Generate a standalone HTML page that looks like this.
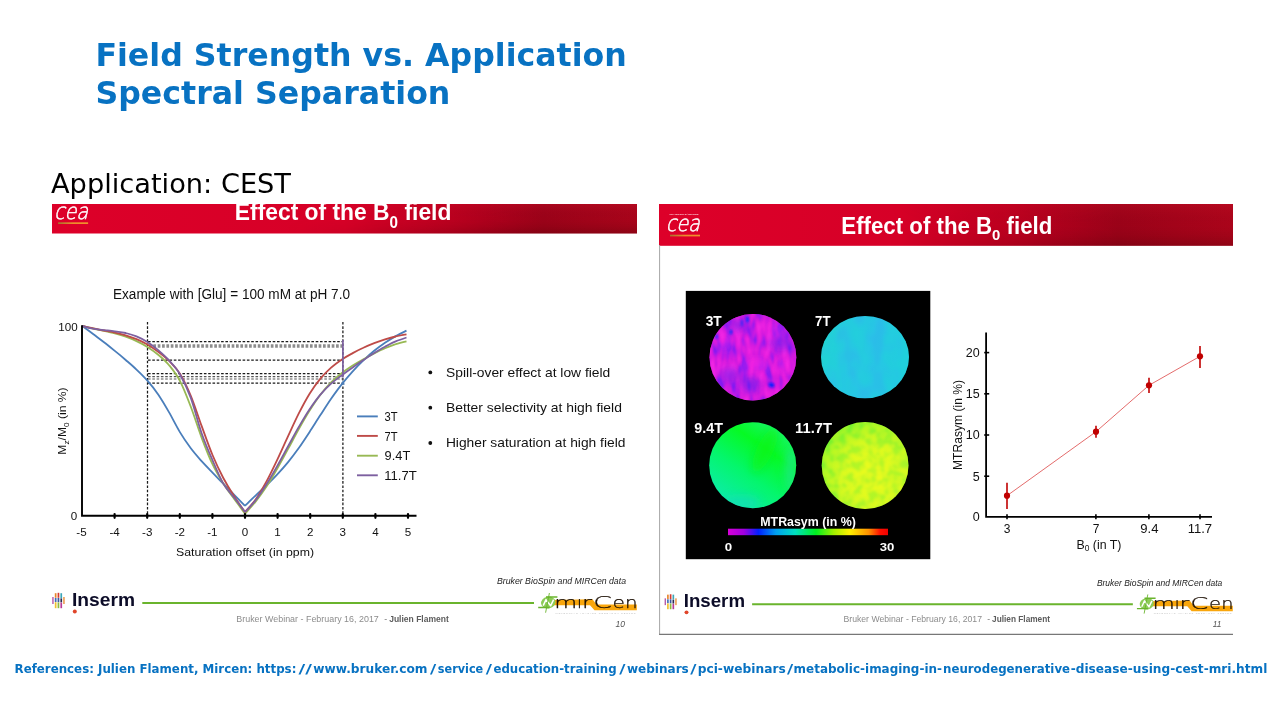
<!DOCTYPE html>
<html lang="en">
<head>
<meta charset="utf-8">
<title>Field Strength vs. Application - Spectral Separation</title>
<style>
html,body{margin:0;padding:0;background:#fff;}
body{width:1281px;height:720px;overflow:hidden;position:relative;}
svg{position:absolute;left:0;top:0;display:block;}
text{font-family:"Liberation Sans",sans-serif;fill:#111;}
.dj{font-family:"DejaVu Sans",sans-serif;}
.b{font-weight:bold;}
.i{font-style:italic;}
</style>
</head>
<body>
<svg width="1281" height="720" viewBox="0 0 1281 720">
<defs>
<linearGradient id="ban1" x1="0" y1="0" x2="1" y2="0">
<stop offset="0" stop-color="#dd0029"/><stop offset="0.5" stop-color="#d60027"/><stop offset="0.68" stop-color="#bb001f"/><stop offset="0.84" stop-color="#9b0319"/><stop offset="1" stop-color="#a8051b"/>
</linearGradient>
<linearGradient id="ban2" x1="0" y1="0" x2="1" y2="0">
<stop offset="0" stop-color="#dd0029"/><stop offset="0.42" stop-color="#d60027"/><stop offset="0.62" stop-color="#bb001f"/><stop offset="0.8" stop-color="#9b0319"/><stop offset="1" stop-color="#ab051b"/>
</linearGradient>
<linearGradient id="shadev" x1="0" y1="0" x2="0" y2="1">
<stop offset="0" stop-color="#ff2040" stop-opacity="0.14"/><stop offset="0.5" stop-color="#800010" stop-opacity="0"/><stop offset="1" stop-color="#300000" stop-opacity="0.22"/>
</linearGradient>
<linearGradient id="ramp" x1="0" y1="0" x2="1" y2="0">
<stop offset="0.4" stop-color="#000"/><stop offset="0.8" stop-color="#fff"/>
</linearGradient>
<mask id="mL" maskUnits="userSpaceOnUse" x="52" y="204" width="585" height="30"><rect x="52" y="204" width="585" height="30" fill="url(#ramp)"/></mask>
<mask id="mR" maskUnits="userSpaceOnUse" x="659" y="204" width="574" height="42"><rect x="659" y="204" width="574" height="42" fill="url(#ramp)"/></mask>
<linearGradient id="shade" x1="0" y1="0" x2="1" y2="0">
<stop offset="0" stop-color="#000" stop-opacity="0"/><stop offset="0.5" stop-color="#000" stop-opacity="0.06"/><stop offset="1" stop-color="#000" stop-opacity="0.08"/>
</linearGradient>
<linearGradient id="cbar" x1="0" y1="0" x2="1" y2="0">
<stop offset="0" stop-color="#d800d8"/><stop offset="0.1" stop-color="#a000e0"/><stop offset="0.19" stop-color="#0020ff"/><stop offset="0.3" stop-color="#00a0f0"/><stop offset="0.42" stop-color="#00e0c0"/><stop offset="0.55" stop-color="#00f020"/><stop offset="0.66" stop-color="#a0f000"/><stop offset="0.76" stop-color="#fff000"/><stop offset="0.88" stop-color="#ff9000"/><stop offset="0.95" stop-color="#ff1000"/><stop offset="1" stop-color="#f00000"/>
</linearGradient>
<linearGradient id="cealine" x1="0" y1="0" x2="1" y2="0">
<stop offset="0" stop-color="#a8702c"/><stop offset="0.5" stop-color="#ee8c2c"/><stop offset="1" stop-color="#f0902c"/>
</linearGradient>
</defs>

<!-- ============ TITLE ============ -->
<g id="title">
<text class="dj b" x="95.4" y="65.6" font-size="32" style="fill:#0872c2" textLength="531.4" lengthAdjust="spacingAndGlyphs">Field Strength vs. Application</text>
<text class="dj b" x="95.4" y="103.6" font-size="32" style="fill:#0872c2" textLength="355" lengthAdjust="spacingAndGlyphs">Spectral Separation</text>
<text class="dj" x="51" y="193" font-size="26.5" style="fill:#000" textLength="240" lengthAdjust="spacingAndGlyphs">Application: CEST</text>
</g>

<!-- ============ LEFT SLIDE ============ -->
<g id="slideL">
<rect x="52" y="204" width="585" height="29.5" fill="url(#ban1)"/>
<rect x="52" y="204" width="585" height="29.5" fill="url(#shadev)" mask="url(#mL)"/>
<clipPath id="cl1"><rect x="52" y="204" width="585" height="29.5"/></clipPath>
<text clip-path="url(#cl1)" class="b" x="234.8" y="220.3" font-size="23.4" style="fill:#fff" textLength="216.6" lengthAdjust="spacingAndGlyphs">Effect of the B<tspan font-size="15.6" dy="7.6">0</tspan><tspan dy="-7.6"> field</tspan></text>

<g transform="translate(56.1,205.9) scale(1.0)">
<text class="dj" transform="translate(2.2,0) skewX(-14)" x="-1.2" y="12.9" font-size="22.2" font-weight="200" style="fill:#fff;stroke:#fff;stroke-width:0.5" textLength="34" lengthAdjust="spacingAndGlyphs">cea</text>
<rect x="2" y="16.4" width="30" height="1.7" fill="url(#cealine)"/>

</g>

<text x="113" y="298.7" font-size="14" textLength="237" lengthAdjust="spacingAndGlyphs">Example with [Glu] = 100 mM at pH 7.0</text>

<!-- chart 1 -->
<g id="chart1" fill="none">
<g stroke="#1a1a1a" stroke-width="1.25" stroke-dasharray="2.6,1.7">
<line x1="147.5" y1="322" x2="147.5" y2="516"/>
<line x1="342.9" y1="322" x2="342.9" y2="516"/>
<line x1="148" y1="341.5" x2="342.5" y2="341.5"/>
<line x1="148" y1="360" x2="342.5" y2="360"/>
<line x1="148" y1="373.5" x2="342.5" y2="373.5"/>
<line x1="148" y1="383.1" x2="342.5" y2="383.1"/>
</g>
<g stroke="#555" stroke-width="1.2" stroke-dasharray="2.6,1.7">
<line x1="148" y1="376.7" x2="342.5" y2="376.7"/>
<line x1="148" y1="379" x2="342.5" y2="379"/>
</g>
<line x1="149" y1="346" x2="342.5" y2="346" stroke="#8c8c8c" stroke-width="3.4" stroke-dasharray="2.7,1.65"/>
<path d="M82.3,326.0 C84.1,327.3 89.5,331.3 93.1,334.0 C96.8,336.7 100.4,339.5 104.0,342.3 C107.6,345.1 111.2,348.0 114.8,350.9 C118.5,353.8 122.1,356.8 125.7,360.0 C129.3,363.1 132.9,366.1 136.5,369.6 C140.1,373.0 143.8,376.5 147.4,380.7 C151.0,384.8 154.6,389.2 158.2,394.5 C161.8,399.8 165.5,406.1 169.1,412.4 C172.7,418.7 176.3,426.1 179.9,432.1 C183.5,438.1 187.2,443.4 190.8,448.3 C194.4,453.1 198.0,457.1 201.6,461.2 C205.2,465.2 208.8,468.8 212.5,472.6 C216.1,476.4 219.7,480.0 223.3,483.7 C226.9,487.4 230.5,491.1 234.2,494.8 C237.8,498.5 243.2,504.0 245.0,505.8 M245.0,505.8 C246.8,504.1 252.2,498.8 255.8,495.3 C259.4,491.9 262.9,488.7 266.5,485.2 C270.1,481.7 273.7,478.2 277.3,474.3 C280.9,470.5 284.5,466.5 288.1,462.1 C291.7,457.7 295.2,453.0 298.8,448.0 C302.4,442.9 306.0,437.4 309.6,431.9 C313.2,426.4 316.8,420.6 320.4,415.1 C324.0,409.5 327.5,403.9 331.1,398.7 C334.7,393.6 338.3,388.6 341.9,384.1 C345.5,379.5 349.1,375.3 352.7,371.3 C356.3,367.3 359.8,363.7 363.4,360.3 C367.0,356.9 370.6,353.7 374.2,350.8 C377.8,347.9 381.4,345.3 385.0,342.8 C388.6,340.4 392.1,338.2 395.7,336.1 C399.3,334.1 404.7,331.5 406.5,330.6" stroke="#4a7ebb" stroke-width="1.8" stroke-linejoin="round"/>
<path d="M82.3,326.0 C84.1,326.4 89.5,327.7 93.1,328.5 C96.8,329.3 100.4,330.0 104.0,330.8 C107.6,331.6 111.2,332.4 114.8,333.4 C118.5,334.4 122.1,335.4 125.7,336.7 C129.3,338.0 132.9,339.4 136.5,341.1 C140.1,342.8 143.8,344.6 147.4,346.9 C151.0,349.2 154.6,351.6 158.2,354.7 C161.8,357.7 165.5,360.8 169.1,365.2 C172.7,369.6 176.3,373.9 179.9,380.9 C183.5,387.8 187.2,397.3 190.8,406.8 C194.4,416.2 198.0,428.0 201.6,437.6 C205.2,447.2 208.8,456.5 212.5,464.2 C216.1,471.8 219.7,477.7 223.3,483.5 C226.9,489.3 230.5,493.9 234.2,498.9 C237.8,503.9 243.2,511.3 245.0,513.7 M245.0,513.7 C246.8,511.7 252.2,505.9 255.8,501.4 C259.4,496.8 262.9,491.9 266.5,486.5 C270.1,481.0 273.7,474.8 277.3,468.5 C280.9,462.3 284.5,455.5 288.1,448.9 C291.7,442.3 295.2,435.5 298.8,429.1 C302.4,422.7 306.0,416.3 309.6,410.6 C313.2,404.9 316.8,399.4 320.4,394.7 C324.0,390.0 327.5,386.0 331.1,382.4 C334.7,378.8 338.3,375.8 341.9,373.0 C345.5,370.2 349.1,367.8 352.7,365.5 C356.3,363.3 359.8,361.3 363.4,359.3 C367.0,357.3 370.6,355.4 374.2,353.5 C377.8,351.7 381.4,349.9 385.0,348.3 C388.6,346.7 392.1,345.2 395.7,344.1 C399.3,342.9 404.7,341.7 406.5,341.3" stroke="#98b954" stroke-width="1.8" stroke-linejoin="round"/>
<path d="M82.3,326.0 C84.1,326.4 89.5,327.7 93.1,328.4 C96.8,329.2 100.4,329.8 104.0,330.5 C107.6,331.2 111.2,331.8 114.8,332.6 C118.5,333.5 122.1,334.3 125.7,335.4 C129.3,336.5 132.9,337.7 136.5,339.2 C140.1,340.7 143.8,342.5 147.4,344.5 C151.0,346.6 154.6,349.1 158.2,351.8 C161.8,354.5 165.5,357.3 169.1,360.9 C172.7,364.5 176.3,367.7 179.9,373.6 C183.5,379.4 187.2,387.0 190.8,395.8 C194.4,404.5 198.0,416.0 201.6,425.9 C205.2,435.7 208.8,446.3 212.5,455.0 C216.1,463.7 219.7,471.1 223.3,478.0 C226.9,484.9 230.5,490.6 234.2,496.2 C237.8,501.9 243.2,509.4 245.0,512.0 M245.0,512.0 C246.8,509.9 252.2,504.3 255.8,499.2 C259.4,494.1 262.9,488.0 266.5,481.4 C270.1,474.8 273.7,467.1 277.3,459.6 C280.9,452.0 284.5,443.8 288.1,436.1 C291.7,428.4 295.2,420.5 298.8,413.4 C302.4,406.3 306.0,399.5 309.6,393.7 C313.2,387.9 316.8,383.0 320.4,378.6 C324.0,374.3 327.5,370.8 331.1,367.6 C334.7,364.4 338.3,361.8 341.9,359.4 C345.5,357.0 349.1,355.1 352.7,353.1 C356.3,351.2 359.8,349.4 363.4,347.8 C367.0,346.1 370.6,344.6 374.2,343.2 C377.8,341.8 381.4,340.5 385.0,339.4 C388.6,338.3 392.1,337.3 395.7,336.5 C399.3,335.6 404.7,334.7 406.5,334.4" stroke="#be4b48" stroke-width="1.8" stroke-linejoin="round"/>
<path d="M82.3,326.0 C84.1,326.4 89.5,328.0 93.1,328.7 C96.8,329.3 100.4,329.7 104.0,330.1 C107.6,330.5 111.2,330.8 114.8,331.3 C118.5,331.8 122.1,332.2 125.7,333.0 C129.3,333.9 132.9,334.9 136.5,336.4 C140.1,337.9 143.8,339.7 147.4,342.0 C151.0,344.3 154.6,347.0 158.2,350.1 C161.8,353.2 165.5,356.4 169.1,360.4 C172.7,364.4 176.3,368.0 179.9,374.2 C183.5,380.5 187.2,388.0 190.8,397.9 C194.4,407.7 198.0,422.8 201.6,433.2 C205.2,443.5 208.8,451.8 212.5,460.2 C216.1,468.6 219.7,477.3 223.3,483.6 C226.9,489.8 230.5,492.9 234.2,497.7 C237.8,502.4 243.2,509.6 245.0,512.0 M245.0,512.0 C246.8,510.0 252.2,504.6 255.8,500.0 C259.4,495.4 262.9,490.0 266.5,484.3 C270.1,478.6 273.7,472.3 277.3,465.9 C280.9,459.6 284.5,452.8 288.1,446.3 C291.7,439.8 295.2,433.1 298.8,426.9 C302.4,420.8 306.0,414.6 309.6,409.2 C313.2,403.9 316.8,398.9 320.4,394.6 C324.0,390.4 327.5,386.9 331.1,383.7 C334.7,380.4 338.3,377.8 341.9,375.1 C345.5,372.4 349.1,369.9 352.7,367.4 C356.3,364.8 359.8,362.4 363.4,360.0 C367.0,357.6 370.6,355.3 374.2,353.0 C377.8,350.8 381.4,348.6 385.0,346.7 C388.6,344.8 392.1,342.9 395.7,341.4 C399.3,339.9 404.7,338.1 406.5,337.5" stroke="#7d60a0" stroke-width="1.8" stroke-linejoin="round"/>
<line x1="342.9" y1="340" x2="342.9" y2="377.5" stroke="#7d60a0" stroke-width="1.7"/>
<path d="M341,384.6 L344.9,384.6 L342.9,380.6 Z" fill="#4a7ebb"/>
<!-- axes -->
<path d="M82,325.3 V515.8 H416.5" stroke="#000" stroke-width="1.9"/>
<g stroke="#000" stroke-width="2.2" stroke-linecap="round">
<line x1="114.6" y1="514" x2="114.6" y2="517.8"/><line x1="147.2" y1="514" x2="147.2" y2="517.8"/><line x1="179.8" y1="514" x2="179.8" y2="517.8"/><line x1="212.4" y1="514" x2="212.4" y2="517.8"/><line x1="245" y1="514" x2="245" y2="517.8"/><line x1="277.6" y1="514" x2="277.6" y2="517.8"/><line x1="310.2" y1="514" x2="310.2" y2="517.8"/><line x1="342.8" y1="514" x2="342.8" y2="517.8"/><line x1="375.4" y1="514" x2="375.4" y2="517.8"/><line x1="408" y1="514" x2="408" y2="517.8"/>
</g>
<!-- legend lines -->
<g stroke-width="1.9">
<line x1="357" y1="416.4" x2="377.8" y2="416.4" stroke="#4a7ebb"/>
<line x1="357" y1="435.9" x2="377.8" y2="435.9" stroke="#be4b48"/>
<line x1="357" y1="455.7" x2="377.8" y2="455.7" stroke="#98b954"/>
<line x1="357" y1="475.3" x2="377.8" y2="475.3" stroke="#7d60a0"/>
</g>
</g>
<g font-size="11.6" text-anchor="middle">
<text x="81.5" y="536.2">-5</text><text x="114.6" y="536.2">-4</text><text x="147.2" y="536.2">-3</text><text x="179.8" y="536.2">-2</text><text x="212.4" y="536.2">-1</text><text x="245" y="536.2">0</text><text x="277.6" y="536.2">1</text><text x="310.2" y="536.2">2</text><text x="342.8" y="536.2">3</text><text x="375.4" y="536.2">4</text><text x="408" y="536.2">5</text>
</g>
<text x="77.6" y="331.3" font-size="11.6" text-anchor="end">100</text>
<text x="77.2" y="520" font-size="11.6" text-anchor="end">0</text>
<text x="245" y="555.5" font-size="11.6" text-anchor="middle" textLength="138" lengthAdjust="spacingAndGlyphs">Saturation offset (in ppm)</text>
<text transform="translate(66.3,421) rotate(-90)" font-size="11.8" text-anchor="middle" textLength="67.3" lengthAdjust="spacingAndGlyphs">M<tspan font-size="8" dy="2.5">z</tspan><tspan dy="-2.5">/M</tspan><tspan font-size="8" dy="2.5">0</tspan><tspan dy="-2.5"> (in %)</tspan></text>
<g font-size="12.3">
<text x="384.6" y="420.9" textLength="13" lengthAdjust="spacingAndGlyphs">3T</text><text x="384.6" y="440.5" textLength="13" lengthAdjust="spacingAndGlyphs">7T</text><text x="384.6" y="460.2" textLength="25.6" lengthAdjust="spacingAndGlyphs">9.4T</text><text x="384.2" y="479.9" textLength="32.6" lengthAdjust="spacingAndGlyphs">11.7T</text>
</g>
<!-- bullets -->
<g font-size="13.2">
<circle cx="430.3" cy="372.4" r="1.9" fill="#111"/><circle cx="430.3" cy="407.7" r="1.9" fill="#111"/><circle cx="430.3" cy="443" r="1.9" fill="#111"/>
<text x="446.1" y="376.7" textLength="164.2" lengthAdjust="spacingAndGlyphs">Spill-over effect at low field</text>
<text x="445.9" y="412" textLength="176" lengthAdjust="spacingAndGlyphs">Better selectivity at high field</text>
<text x="445.9" y="447.2" textLength="179.5" lengthAdjust="spacingAndGlyphs">Higher saturation at high field</text>
</g>

<g transform="translate(0,0) scale(1)">
<g>
<rect x="52.3" y="597" width="1.3" height="7" fill="#b04aa0"/>
<rect x="54.8" y="593.2" width="1.7" height="4.6" fill="#e8862a"/><rect x="54.8" y="598" width="1.7" height="4" fill="#3f6fb5"/><rect x="54.8" y="602.2" width="1.7" height="6" fill="#f0c030"/>
<rect x="57.6" y="592.8" width="1.7" height="5" fill="#d63a2e"/><rect x="57.6" y="598" width="1.7" height="4.2" fill="#3b56a0"/><rect x="57.6" y="602.4" width="1.7" height="5.8" fill="#8fb840"/>
<rect x="60.4" y="593.2" width="1.7" height="5" fill="#3aa6b8"/><rect x="60.4" y="598.4" width="1.7" height="4" fill="#2a2a50"/><rect x="60.4" y="602.6" width="1.7" height="5.6" fill="#b83a98"/>
<rect x="63.3" y="597" width="1.3" height="7" fill="#e8862a"/>
</g>
<text class="b" x="72" y="606.3" font-size="18.2" style="fill:#0c0c28" textLength="63" lengthAdjust="spacingAndGlyphs">Inserm</text>
<circle cx="74.8" cy="611.4" r="2" fill="#e0452a"/>
<line x1="142.3" y1="603" x2="534" y2="603" stroke="#6ab42d" stroke-width="2.1"/>
<text x="236.3" y="621.5" font-size="8.8" style="fill:#8c8c8c" textLength="142.5" lengthAdjust="spacingAndGlyphs">Bruker Webinar - February 16, 2017</text>
<text x="384.2" y="621.5" font-size="8.8" style="fill:#777">-</text>
<text class="b" x="389.2" y="621.5" font-size="8.8" style="fill:#5c5c5c" textLength="59.6" lengthAdjust="spacingAndGlyphs">Julien Flament</text>
<text class="i" x="497" y="584" font-size="9" style="fill:#222" textLength="129" lengthAdjust="spacingAndGlyphs">Bruker BioSpin and MIRCen data</text>
<text class="i" x="615.5" y="627" font-size="8.6" style="fill:#555">10</text>
<!-- MIRCen logo -->
<g>
<path d="M551.5,600 L592.5,599.3 L596.5,604.6 L636.8,604.6 L636.8,610.2 L594.5,610.2 L590,605.2 L551.5,605.2 Z" fill="#f9a60c"/>
<ellipse cx="548.3" cy="602.6" rx="7.3" ry="5.9" fill="#8ccb57" transform="rotate(-12 548.3 602.6)"/>
<path d="M543.2,605.6 L546,599.6 L550.6,605.8 L553.6,599.6" stroke="#fff" stroke-width="1.5" fill="none" stroke-linejoin="round"/>
<path d="M546,597 H557.4 M538.2,607.6 H549.5" stroke="#6ab42d" stroke-width="1.5" fill="none"/>
<path d="M549.4,593 L545.6,612.7" stroke="#6ab42d" stroke-width="0.9" fill="none"/>
<g class="dj" font-size="16" font-weight="200" style="fill:#1a0d00;stroke:#1a0d00;stroke-width:0.25">
<text class="dj" x="554.2" y="608.2" font-weight="200" style="fill:#1a0d00" textLength="23" lengthAdjust="spacingAndGlyphs">m</text>
<text class="dj" x="577" y="608.2" font-weight="200" style="fill:#1a0d00" textLength="5" lengthAdjust="spacingAndGlyphs">ı</text>
<text class="dj" x="582" y="608.2" font-weight="200" style="fill:#1a0d00" textLength="10" lengthAdjust="spacingAndGlyphs">r</text>
<text class="dj" x="593.2" y="608.2" font-weight="200" style="fill:#1a0d00" textLength="18.6" lengthAdjust="spacingAndGlyphs">C</text>
<text class="dj" x="612.4" y="608.2" font-weight="200" style="fill:#1a0d00" textLength="12.4" lengthAdjust="spacingAndGlyphs">e</text>
<text class="dj" x="625" y="608.2" font-weight="200" style="fill:#1a0d00" textLength="12.6" lengthAdjust="spacingAndGlyphs">n</text>
</g>
<text x="555.5" y="613.5" font-size="2.4" style="fill:#b4b4b4" textLength="80" lengthAdjust="spacing">MOLECULAR IMAGING RESEARCH CENTER</text>
</g>
</g>

</g>

<!-- ============ RIGHT SLIDE ============ -->
<g id="slideR">
<rect x="659" y="204" width="574" height="41.8" fill="url(#ban2)"/>
<rect x="659" y="204" width="574" height="41.8" fill="url(#shadev)" mask="url(#mR)"/>
<line x1="659.6" y1="245" x2="659.6" y2="634.8" stroke="#a6a6a6" stroke-width="1"/>
<line x1="659.1" y1="634.4" x2="1233" y2="634.4" stroke="#777" stroke-width="1.2"/>
<text class="b" x="841.3" y="233.7" font-size="23" style="fill:#fff" textLength="211" lengthAdjust="spacingAndGlyphs">Effect of the B<tspan font-size="15.4" dy="6.4">0</tspan><tspan dy="-6.4"> field</tspan></text>

<g transform="translate(668,218.3) scale(1.0)">
<text class="dj" transform="translate(2.2,0) skewX(-14)" x="-1.2" y="12.9" font-size="22.2" font-weight="200" style="fill:#fff;stroke:#fff;stroke-width:0.5" textLength="34" lengthAdjust="spacingAndGlyphs">cea</text>
<rect x="2" y="16.4" width="30" height="1.7" fill="url(#cealine)"/>
<text x="1.6" y="-3.4" font-size="2.3" style="fill:#fff;opacity:0.85" textLength="29" lengthAdjust="spacing">DE LA RECHERCHE À L'INDUSTRIE</text>
</g>


<g id="mri">
<defs>
<radialGradient id="g3" cx="0.5" cy="0.55" r="0.6"><stop offset="0" stop-color="#dc24dc"/><stop offset="1" stop-color="#c01cdc"/></radialGradient>
<linearGradient id="g7" x1="0" y1="0" x2="1" y2="0.3"><stop offset="0" stop-color="#22dcc4"/><stop offset="0.25" stop-color="#24cedb"/><stop offset="0.6" stop-color="#28c6e4"/><stop offset="1" stop-color="#22cede"/></linearGradient>
<linearGradient id="g9" x1="0.15" y1="1" x2="0.85" y2="0"><stop offset="0" stop-color="#0eeab4"/><stop offset="0.4" stop-color="#04f66c"/><stop offset="0.7" stop-color="#06fa24"/><stop offset="1" stop-color="#1cf27c"/></linearGradient>
<radialGradient id="g11" cx="0.6" cy="0.62" r="0.75"><stop offset="0" stop-color="#e8fa20"/><stop offset="0.5" stop-color="#ccf824"/><stop offset="0.85" stop-color="#84f42c"/><stop offset="1" stop-color="#54f030"/></radialGradient>
<clipPath id="c3"><ellipse cx="752.9" cy="357.2" rx="43.4" ry="43.3"/></clipPath>
<clipPath id="c7"><ellipse cx="865" cy="357.1" rx="44" ry="41.2"/></clipPath>
<clipPath id="c9"><ellipse cx="752.7" cy="465.3" rx="43.5" ry="43"/></clipPath>
<clipPath id="c11"><ellipse cx="865.1" cy="465.5" rx="43.4" ry="43.6"/></clipPath>
<filter id="bl1" x="-50%" y="-50%" width="200%" height="200%"><feGaussianBlur stdDeviation="1"/></filter>
<filter id="bl2" x="-50%" y="-50%" width="200%" height="200%"><feGaussianBlur stdDeviation="2.2"/></filter>
<filter id="bl3" x="-50%" y="-50%" width="200%" height="200%"><feGaussianBlur stdDeviation="4"/></filter>
<filter id="n3" x="0" y="0" width="100%" height="100%" color-interpolation-filters="sRGB">
<feTurbulence type="fractalNoise" baseFrequency="0.12 0.05" numOctaves="2" seed="7" result="t"/>
<feColorMatrix in="t" type="matrix" values="2.0 0 0 0 -0.5  2.0 0 0 0 -0.5  2.0 0 0 0 -0.5  0 0 0 0 1"/>
<feComponentTransfer><feFuncR type="table" tableValues="0.42 0.66 0.84 0.94 1"/><feFuncG type="table" tableValues="0.1 0.1 0.1 0.12 0.16"/><feFuncB type="table" tableValues="0.98 0.93 0.88 0.88 0.9"/><feFuncA type="table" tableValues="0.7 0.7"/></feComponentTransfer>
<feGaussianBlur stdDeviation="0.7"/>
<feComposite in2="SourceGraphic" operator="in"/>
</filter>
<filter id="n7" x="0" y="0" width="100%" height="100%" color-interpolation-filters="sRGB">
<feTurbulence type="fractalNoise" baseFrequency="0.07 0.04" numOctaves="2" seed="11" result="t"/>
<feColorMatrix in="t" type="matrix" values="2.4 0 0 0 -0.7  2.4 0 0 0 -0.7  2.4 0 0 0 -0.7  0 0 0 0 1"/>
<feComponentTransfer><feFuncR type="table" tableValues="0.2 0.17 0.13 0.12"/><feFuncG type="table" tableValues="0.66 0.74 0.8 0.84"/><feFuncB type="table" tableValues="0.96 0.93 0.88 0.84"/><feFuncA type="table" tableValues="0.3 0.3"/></feComponentTransfer>
<feGaussianBlur stdDeviation="1"/>
<feComposite in2="SourceGraphic" operator="in"/>
</filter>
<filter id="n11" x="0" y="0" width="100%" height="100%" color-interpolation-filters="sRGB">
<feTurbulence type="fractalNoise" baseFrequency="0.13 0.13" numOctaves="2" seed="5" result="t"/>
<feColorMatrix in="t" type="matrix" values="2.8 0 0 0 -0.9  2.8 0 0 0 -0.9  2.8 0 0 0 -0.9  0 0 0 0 1"/>
<feComponentTransfer><feFuncR type="table" tableValues="0.35 0.65 0.9 1"/><feFuncG type="table" tableValues="0.93 0.96 0.98 1"/><feFuncB type="table" tableValues="0.2 0.15 0.12 0.08"/><feFuncA type="table" tableValues="0.3 0.3"/></feComponentTransfer>
<feGaussianBlur stdDeviation="0.8"/>
<feComposite in2="SourceGraphic" operator="in"/>
</filter>
</defs>
<rect x="685.8" y="290.9" width="244.5" height="268.3" fill="#000"/>
<ellipse cx="752.9" cy="357.2" rx="43.4" ry="43.3" fill="url(#g3)"/>
<g clip-path="url(#c3)">
<rect x="708" y="312" width="90" height="90" fill="#c020e0" filter="url(#n3)"/>
<g filter="url(#bl3)" opacity="0.55">
<ellipse cx="781" cy="343" rx="12" ry="7" fill="#5a20f0"/>
<ellipse cx="730" cy="375" rx="10" ry="7" fill="#5a20f0"/>
<ellipse cx="750" cy="384" rx="10" ry="7" fill="#5020f0"/>
<ellipse cx="738" cy="325" rx="9" ry="6" fill="#6020f0"/>
<ellipse cx="757" cy="365" rx="12" ry="5" fill="#ff28e8"/>
<ellipse cx="785" cy="366" rx="6" ry="6" fill="#ff28e8"/>
<ellipse cx="724" cy="342" rx="6" ry="8" fill="#ff28e8"/>
<ellipse cx="775" cy="330" rx="7" ry="5" fill="#ff28e8"/>
</g>
<g filter="url(#bl1)">
<ellipse cx="730.9" cy="332" rx="1.4" ry="2.8" fill="#1030ff"/>
<ellipse cx="747.5" cy="319.5" rx="1.5" ry="3" fill="#2030ff"/>
<ellipse cx="742" cy="323" rx="1.2" ry="3.4" fill="#4028f8"/>
<ellipse cx="716.6" cy="336.5" rx="1.3" ry="2.6" fill="#2030ff"/>
<ellipse cx="771.5" cy="385" rx="3" ry="2.2" fill="#1020ff" transform="rotate(30 771.5 385)"/>
</g>
</g>
<ellipse cx="865" cy="357.1" rx="44" ry="41.2" fill="url(#g7)"/>
<g clip-path="url(#c7)"><rect x="820" y="315" width="90" height="85" fill="#22c8e0" filter="url(#n7)"/></g>
<ellipse cx="752.7" cy="465.3" rx="43.5" ry="43" fill="url(#g9)"/>
<g clip-path="url(#c9)">
<g filter="url(#bl3)" opacity="0.7">
<ellipse cx="791" cy="470" rx="6" ry="22" fill="#24e498"/>
<ellipse cx="742" cy="503" rx="18" ry="7" fill="#16dcb8"/>
<ellipse cx="765" cy="450" rx="8" ry="24" fill="#10f418" transform="rotate(25 765 450)"/>
</g>
</g>
<ellipse cx="865.1" cy="465.5" rx="43.4" ry="43.6" fill="url(#g11)"/>
<g clip-path="url(#c11)"><rect x="820" y="420" width="90" height="92" fill="#c0f028" filter="url(#n11)"/></g>
<rect x="728" y="528.7" width="160" height="6.5" fill="url(#cbar)"/>
<text class="b" x="705.7" y="326" font-size="14.6" style="fill:#fff" textLength="16" lengthAdjust="spacingAndGlyphs">3T</text>
<text class="b" x="815" y="326" font-size="14.6" style="fill:#fff" textLength="15.5" lengthAdjust="spacingAndGlyphs">7T</text>
<text class="b" x="694.3" y="433" font-size="14.8" style="fill:#fff" textLength="28.6" lengthAdjust="spacingAndGlyphs">9.4T</text>
<text class="b" x="795" y="433" font-size="14.8" style="fill:#fff" textLength="37" lengthAdjust="spacingAndGlyphs">11.7T</text>
<text class="b" x="760.3" y="526.2" font-size="12.2" style="fill:#fff" textLength="95.6" lengthAdjust="spacingAndGlyphs">MTRasym (in %)</text>
<text class="b" x="724.8" y="550.7" font-size="11.2" style="fill:#fff" textLength="7.4" lengthAdjust="spacingAndGlyphs">0</text>
<text class="b" x="879.8" y="550.7" font-size="11.2" style="fill:#fff" textLength="14.6" lengthAdjust="spacingAndGlyphs">30</text>
</g>


<g id="chart2">
<path d="M986.1,332.4 V516.9 H1212" fill="none" stroke="#000" stroke-width="1.8"/>
<g stroke="#000" stroke-width="1.6">
<line x1="984.2" y1="476.2" x2="989.2" y2="476.2"/><line x1="984.2" y1="435" x2="989.2" y2="435"/><line x1="984.2" y1="393.8" x2="989.2" y2="393.8"/><line x1="984.2" y1="352.6" x2="989.2" y2="352.6"/>
<line x1="1007" y1="514.3" x2="1007" y2="519.3"/><line x1="1095.9" y1="514.3" x2="1095.9" y2="519.3"/><line x1="1148.9" y1="514.3" x2="1148.9" y2="519.3"/><line x1="1200" y1="514.3" x2="1200" y2="519.3"/>
</g>
<polyline points="1007,495.7 1096,431.7 1149,385.3 1200,356.3" fill="none" stroke="#e05a5a" stroke-width="0.9"/>
<g stroke="#c00000" stroke-width="1.6">
<line x1="1007" y1="482.7" x2="1007" y2="509"/><line x1="1096" y1="425.7" x2="1096" y2="437.7"/><line x1="1149" y1="377.7" x2="1149" y2="393"/><line x1="1200" y1="346" x2="1200" y2="368"/>
</g>
<g fill="#c00000"><circle cx="1007" cy="495.7" r="3.1"/><circle cx="1096" cy="431.7" r="3.1"/><circle cx="1149" cy="385.3" r="3.1"/><circle cx="1200" cy="356.3" r="3.1"/></g>
<g font-size="12.5" text-anchor="end">
<text x="979.6" y="521.2">0</text><text x="979.6" y="480.5">5</text><text x="979.6" y="439.3">10</text><text x="979.6" y="398.1">15</text><text x="979.6" y="357">20</text>
</g>
<g font-size="12" text-anchor="middle">
<text x="1007" y="532.7">3</text><text x="1096.2" y="532.7">7</text><text x="1149.4" y="532.7" textLength="18.2" lengthAdjust="spacingAndGlyphs">9.4</text><text x="1199.9" y="532.7" textLength="24.4" lengthAdjust="spacingAndGlyphs">11.7</text>
<text x="1099" y="548.8" textLength="45" lengthAdjust="spacingAndGlyphs">B<tspan font-size="8.2" dy="2.6">0</tspan><tspan dy="-2.6"> (in T)</tspan></text>
</g>
<text transform="translate(962.2,425) rotate(-90)" font-size="12.4" text-anchor="middle" textLength="90" lengthAdjust="spacingAndGlyphs">MTRasym (in %)</text>
</g>


<g transform="translate(613.8,18.05) scale(0.972)">
<g>
<rect x="52.3" y="597" width="1.3" height="7" fill="#b04aa0"/>
<rect x="54.8" y="593.2" width="1.7" height="4.6" fill="#e8862a"/><rect x="54.8" y="598" width="1.7" height="4" fill="#3f6fb5"/><rect x="54.8" y="602.2" width="1.7" height="6" fill="#f0c030"/>
<rect x="57.6" y="592.8" width="1.7" height="5" fill="#d63a2e"/><rect x="57.6" y="598" width="1.7" height="4.2" fill="#3b56a0"/><rect x="57.6" y="602.4" width="1.7" height="5.8" fill="#8fb840"/>
<rect x="60.4" y="593.2" width="1.7" height="5" fill="#3aa6b8"/><rect x="60.4" y="598.4" width="1.7" height="4" fill="#2a2a50"/><rect x="60.4" y="602.6" width="1.7" height="5.6" fill="#b83a98"/>
<rect x="63.3" y="597" width="1.3" height="7" fill="#e8862a"/>
</g>
<text class="b" x="72" y="606.3" font-size="18.2" style="fill:#0c0c28" textLength="63" lengthAdjust="spacingAndGlyphs">Inserm</text>
<circle cx="74.8" cy="611.4" r="2" fill="#e0452a"/>
<line x1="142.3" y1="603" x2="534" y2="603" stroke="#6ab42d" stroke-width="2.1"/>
<text x="236.3" y="621.5" font-size="8.8" style="fill:#8c8c8c" textLength="142.5" lengthAdjust="spacingAndGlyphs">Bruker Webinar - February 16, 2017</text>
<text x="384.2" y="621.5" font-size="8.8" style="fill:#777">-</text>
<text class="b" x="389.2" y="621.5" font-size="8.8" style="fill:#5c5c5c" textLength="59.6" lengthAdjust="spacingAndGlyphs">Julien Flament</text>
<text class="i" x="497" y="584" font-size="9" style="fill:#222" textLength="129" lengthAdjust="spacingAndGlyphs">Bruker BioSpin and MIRCen data</text>
<text class="i" x="616.3" y="627" font-size="8.6" style="fill:#555">11</text>
<!-- MIRCen logo -->
<g>
<path d="M551.5,600 L592.5,599.3 L596.5,604.6 L636.8,604.6 L636.8,610.2 L594.5,610.2 L590,605.2 L551.5,605.2 Z" fill="#f9a60c"/>
<ellipse cx="548.3" cy="602.6" rx="7.3" ry="5.9" fill="#8ccb57" transform="rotate(-12 548.3 602.6)"/>
<path d="M543.2,605.6 L546,599.6 L550.6,605.8 L553.6,599.6" stroke="#fff" stroke-width="1.5" fill="none" stroke-linejoin="round"/>
<path d="M546,597 H557.4 M538.2,607.6 H549.5" stroke="#6ab42d" stroke-width="1.5" fill="none"/>
<path d="M549.4,593 L545.6,612.7" stroke="#6ab42d" stroke-width="0.9" fill="none"/>
<g class="dj" font-size="16" font-weight="200" style="fill:#1a0d00;stroke:#1a0d00;stroke-width:0.25">
<text class="dj" x="554.2" y="608.2" font-weight="200" style="fill:#1a0d00" textLength="23" lengthAdjust="spacingAndGlyphs">m</text>
<text class="dj" x="577" y="608.2" font-weight="200" style="fill:#1a0d00" textLength="5" lengthAdjust="spacingAndGlyphs">ı</text>
<text class="dj" x="582" y="608.2" font-weight="200" style="fill:#1a0d00" textLength="10" lengthAdjust="spacingAndGlyphs">r</text>
<text class="dj" x="593.2" y="608.2" font-weight="200" style="fill:#1a0d00" textLength="18.6" lengthAdjust="spacingAndGlyphs">C</text>
<text class="dj" x="612.4" y="608.2" font-weight="200" style="fill:#1a0d00" textLength="12.4" lengthAdjust="spacingAndGlyphs">e</text>
<text class="dj" x="625" y="608.2" font-weight="200" style="fill:#1a0d00" textLength="12.6" lengthAdjust="spacingAndGlyphs">n</text>
</g>
<text x="555.5" y="613.5" font-size="2.4" style="fill:#b4b4b4" textLength="80" lengthAdjust="spacing">MOLECULAR IMAGING RESEARCH CENTER</text>
</g>
</g>

</g>

<!-- ============ REFERENCE ============ -->
<g class="dj b" font-size="12.1" style="fill:#0872c2">
<text class="dj b" x="14.6" y="672.8" style="fill:#0872c2" textLength="281.8" lengthAdjust="spacingAndGlyphs">References: Julien Flament, Mircen: https:</text>
<text class="dj b" x="298.6" y="672.8" style="fill:#0872c2" textLength="13.4" lengthAdjust="spacingAndGlyphs">//</text>
<text class="dj b" x="313.2" y="672.8" style="fill:#0872c2" textLength="114.3" lengthAdjust="spacingAndGlyphs">www.bruker.com</text>
<text class="dj b" x="430.0" y="672.8" style="fill:#0872c2" textLength="6.2" lengthAdjust="spacingAndGlyphs">/</text>
<text class="dj b" x="437.8" y="672.8" style="fill:#0872c2" textLength="45.4" lengthAdjust="spacingAndGlyphs">service</text>
<text class="dj b" x="485.8" y="672.8" style="fill:#0872c2" textLength="6.2" lengthAdjust="spacingAndGlyphs">/</text>
<text class="dj b" x="493.5" y="672.8" style="fill:#0872c2" textLength="123.1" lengthAdjust="spacingAndGlyphs">education-training</text>
<text class="dj b" x="619.3" y="672.8" style="fill:#0872c2" textLength="6.2" lengthAdjust="spacingAndGlyphs">/</text>
<text class="dj b" x="626.9" y="672.8" style="fill:#0872c2" textLength="61.9" lengthAdjust="spacingAndGlyphs">webinars</text>
<text class="dj b" x="690.3" y="672.8" style="fill:#0872c2" textLength="6.2" lengthAdjust="spacingAndGlyphs">/</text>
<text class="dj b" x="697.7" y="672.8" style="fill:#0872c2" textLength="88.0" lengthAdjust="spacingAndGlyphs">pci-webinars</text>
<text class="dj b" x="786.9" y="672.8" style="fill:#0872c2" textLength="6.2" lengthAdjust="spacingAndGlyphs">/</text>
<text class="dj b" x="793.6" y="672.8" style="fill:#0872c2" textLength="148.4" lengthAdjust="spacingAndGlyphs">metabolic-imaging-in-</text>
<text class="dj b" x="943.0" y="672.8" style="fill:#0872c2" textLength="127.1" lengthAdjust="spacingAndGlyphs">neurodegenerative</text>
<text class="dj b" x="1070.7" y="672.8" style="fill:#0872c2" textLength="196.7" lengthAdjust="spacingAndGlyphs">-disease-using-cest-mri.html</text>
</g>
</svg>
</body>
</html>
